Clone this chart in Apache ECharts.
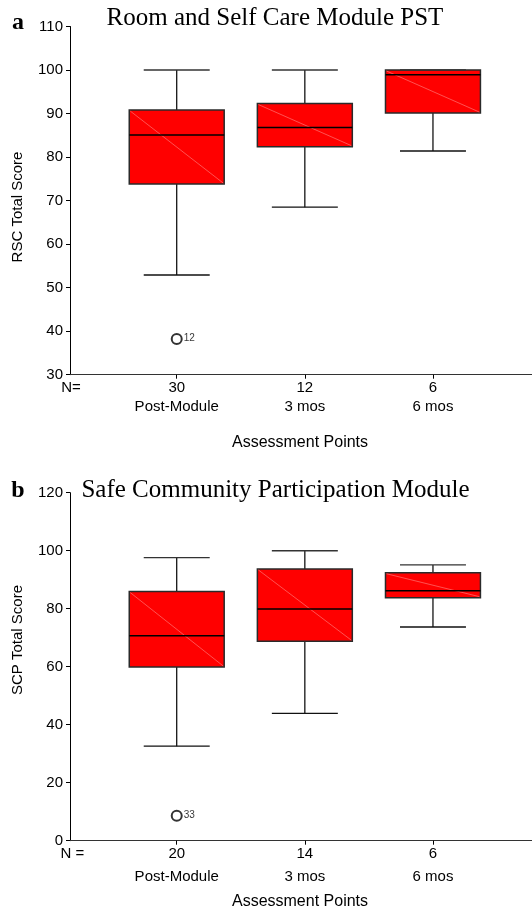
<!DOCTYPE html>
<html>
<head>
<meta charset="utf-8">
<script src="https://cdn.jsdelivr.net/npm/echarts@6/dist/echarts.min.js"></script>
<style>
  html, body { margin: 0; padding: 0; background: #fff; }
  #chart { width: 532px; height: 910px; }
</style>
</head>
<body>
<div id="chart"></div>
<script>
// categories shared by both panels
const categories = ['Post-Module', '3 mos', '6 mos']
const positions = [1, 2, 3]

// panel a: Room and Self Care Module PST  [min, Q1, median, Q3, max]
const rscN = [30, 12, 6]
const rscBoxes = [
  [52.9, 73.8, 85.1, 90.8, 100],
  [68.5, 82.4, 86.8, 92.3, 100],
  [81.4, 90.1, 98.9, 100, 100]
]
const rscOutliers = [[1, 38.2]]
const rscOutlierIds = ['12']

// panel b: Safe Community Participation Module
const scpN = [20, 14, 6]
const scpBoxes = [
  [32.6, 59.9, 70.7, 85.9, 97.6],
  [43.9, 68.8, 79.9, 93.7, 100],
  [73.7, 83.8, 86.2, 92.4, 95.1]
]
const scpOutliers = [[1, 8.6]]
const scpOutlierIds = ['33']

const SANS = '"Liberation Sans", Arial, Helvetica, sans-serif'
const SERIF = '"Liberation Serif", "Times New Roman", serif'
const BOX_RED = '#ff0000'

const boxRows = (boxes) => boxes.map((b, i) => [positions[i]].concat(b))

const renderBox = (params, api) => {
  const x = api.value(0)
  const lo = api.coord([x, api.value(1)])
  const q1 = api.coord([x, api.value(2)])
  const med = api.coord([x, api.value(3)])
  const q3 = api.coord([x, api.value(4)])
  const hi = api.coord([x, api.value(5)])
  const bw = api.size([0.741, 0])[0]
  const cw = api.size([0.515, 0])[0]
  const cx = med[0]
  const line = (x1, y1, x2, y2, stroke, width) => ({
    type: 'line',
    shape: { x1, y1, x2, y2 },
    style: { stroke, lineWidth: width }
  })
  return {
    type: 'group',
    children: [
      line(cx, hi[1], cx, q3[1], '#000', 1.2),
      line(cx, q1[1], cx, lo[1], '#000', 1.2),
      {
        type: 'rect',
        shape: { x: cx - bw / 2, y: q3[1], width: bw, height: q1[1] - q3[1] },
        style: { fill: BOX_RED, stroke: '#2a2a2a', lineWidth: 1.5 }
      },
      line(cx - bw / 2 + 1, q3[1] + 1, cx + bw / 2 - 1, q1[1] - 1, 'rgba(255,170,170,0.8)', 0.6),
      line(cx - bw / 2, med[1], cx + bw / 2, med[1], '#000', 1.5),
      line(cx - cw / 2, hi[1], cx + cw / 2, hi[1], '#333', 1.4),
      line(cx - cw / 2, lo[1], cx + cw / 2, lo[1], '#111', 1.4)
    ]
  }
}

const makeXAxis = (gridIndex, ns, lineHeight, margin) => ({
  type: 'value',
  gridIndex,
  min: 0.167,
  max: 3.773,
  splitLine: { show: false },
  axisLine: { onZero: false, lineStyle: { color: '#333', width: 1.2 } },
  axisTick: { customValues: positions, length: 4, lineStyle: { color: '#000' } },
  axisLabel: {
    customValues: positions,
    margin,
    color: '#000',
    fontFamily: SANS,
    fontSize: 15,
    lineHeight,
    formatter: (v) => {
      const i = Math.round(v) - 1
      return ns[i] + '\n' + categories[i]
    }
  }
})

const makeYAxis = (gridIndex, min, max, interval) => ({
  type: 'value',
  gridIndex,
  min,
  max,
  interval,
  splitLine: { show: false },
  axisLine: { show: true, lineStyle: { color: '#000', width: 1 } },
  axisTick: { show: true, length: 4, lineStyle: { color: '#000' } },
  axisLabel: { margin: 7, color: '#000', fontFamily: SANS, fontSize: 15 }
})

const outlierSeries = (idx, data, ids) => ({
  type: 'scatter',
  xAxisIndex: idx,
  yAxisIndex: idx,
  data,
  symbol: 'emptyCircle',
  symbolSize: 10,
  itemStyle: { color: '#000', borderColor: '#000', borderWidth: 1 },
  label: {
    show: true,
    position: 'right',
    distance: 1,
    offset: [0, -1],
    fontFamily: SANS,
    fontSize: 10,
    color: '#000',
    formatter: (p) => ids[p.dataIndex]
  },
  z: 5
})

const text = (x, y, str, style, rotation) => ({
  type: 'text',
  x,
  y,
  rotation: rotation || 0,
  style: Object.assign({ text: str, fill: '#000', align: 'center', verticalAlign: 'middle' }, style)
})

const chart = echarts.init(document.getElementById('chart'))
chart.setOption({
  animation: false,
  backgroundColor: '#fff',
  grid: [
    { left: 70, right: 0, top: 26.5, height: 348.2 },
    { left: 70, right: 0, top: 492.7, height: 348 }
  ],
  xAxis: [
    makeXAxis(0, rscN, 19, 4),
    makeXAxis(1, scpN, 23, 2)
  ],
  yAxis: [
    makeYAxis(0, 30, 110, 10),
    makeYAxis(1, 0, 120, 20)
  ],
  series: [
    {
      type: 'custom',
      xAxisIndex: 0,
      yAxisIndex: 0,
      renderItem: renderBox,
      encode: { x: 0, y: [1, 2, 3, 4, 5] },
      data: boxRows(rscBoxes)
    },
    outlierSeries(0, rscOutliers, rscOutlierIds),
    {
      type: 'custom',
      xAxisIndex: 1,
      yAxisIndex: 1,
      renderItem: renderBox,
      encode: { x: 0, y: [1, 2, 3, 4, 5] },
      data: boxRows(scpBoxes)
    },
    outlierSeries(1, scpOutliers, scpOutlierIds)
  ],
  graphic: [
    text(18, 23, 'a', { font: 'bold 24px ' + SERIF }),
    text(275, 18, 'Room and Self Care Module PST', { font: '25px ' + SERIF }),
    text(18, 207, 'RSC Total Score', { font: '15px ' + SANS }, Math.PI / 2),
    text(71, 388, 'N=', { font: '15px ' + SANS }),
    text(300, 443, 'Assessment Points', { font: '16px ' + SANS }),
    text(18, 490.5, 'b', { font: 'bold 24px ' + SERIF }),
    text(275.5, 490.5, 'Safe Community Participation Module', { font: '25px ' + SERIF }),
    text(18, 640, 'SCP Total Score', { font: '15px ' + SANS }, Math.PI / 2),
    text(72.5, 854, 'N =', { font: '15px ' + SANS }),
    text(300, 902, 'Assessment Points', { font: '16px ' + SANS })
  ]
})
</script>
</body>
</html>
